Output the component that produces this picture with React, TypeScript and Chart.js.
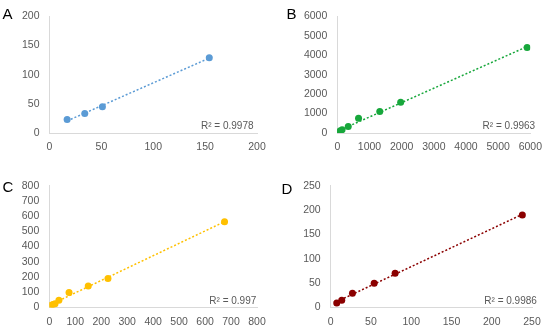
import React, { useEffect, useRef } from "react";
import { Chart, registerables } from "chart.js";

Chart.register(...registerables);

// ---- Data ----
const panelLetters = ["A", "B", "C", "D"];
const r2Labels = ["R² = 0.9978", "R² = 0.9963", "R² = 0.997", "R² = 0.9986"];

const xA = [17, 34, 51, 154];
const yA = [23, 33.5, 45, 129];

const xB = [10, 40, 80, 150, 340, 660, 1320, 1970, 5900];
const yB = [10, 40, 100, 170, 330, 760, 1110, 1580, 4400];

const xC = [8, 14, 22, 37, 76, 150, 226, 675];
const yC = [15, 20, 25, 48, 98, 142, 191, 563];

const xD = [7.5, 13.7, 27, 54, 80, 238];
const yD = [9, 15, 29, 50, 70.5, 190];

const axisMax = [200, 6000, 800, 250];
const axisStep = [50, 1000, 100, 50];

// ---- Styles / layout ----
const colors = ["#5B9BD5", "#17A73B", "#FFC000", "#8B0000"];
const FONT = '"Liberation Sans", Arial, sans-serif';

type PanelLayout = {
  left: number;
  top: number;
  width: number;
  height: number;
  area: { l: number; r: number; t: number; b: number };
  r2Off: number;
  letterLeft: number;
  letterTop: number;
};

const layouts: PanelLayout[] = [
  { left: 0, top: 0, width: 275, height: 165, area: { l: 49.5, r: 257, t: 12, b: 133 }, r2Off: 56, letterLeft: 2.5, letterTop: 6.2 },
  { left: 275, top: 0, width: 275, height: 165, area: { l: 62.3, r: 257, t: 12, b: 133 }, r2Off: 47.7, letterLeft: 11.5, letterTop: 5.5 },
  { left: 0, top: 165, width: 275, height: 166, area: { l: 49.3, r: 257, t: 20.7, b: 142.5 }, r2Off: 47.7, letterLeft: 2.5, letterTop: 13.8 },
  { left: 275, top: 165, width: 275, height: 166, area: { l: 55.7, r: 257, t: 20.7, b: 142.5 }, r2Off: 47.7, letterLeft: 6.5, letterTop: 15.5 },
];

const seriesX = [xA, xB, xC, xD];
const seriesY = [yA, yB, yC, yD];

function fitLine(xs: number[], ys: number[]) {
  const n = xs.length;
  const mx = xs.reduce((a, b) => a + b, 0) / n;
  const my = ys.reduce((a, b) => a + b, 0) / n;
  let sxy = 0;
  let sxx = 0;
  for (let i = 0; i < n; i++) {
    sxy += (xs[i] - mx) * (ys[i] - my);
    sxx += (xs[i] - mx) * (xs[i] - mx);
  }
  const slope = sxy / sxx;
  const intercept = my - slope * mx;
  const x0 = Math.min(...xs);
  const x1 = Math.max(...xs);
  return [
    { x: x0, y: intercept + slope * x0 },
    { x: x1, y: intercept + slope * x1 },
  ];
}

function Panel({ idx }: { idx: number }) {
  const ref = useRef<HTMLCanvasElement | null>(null);
  const L = layouts[idx];

  useEffect(() => {
    if (!ref.current) return;
    const xs = seriesX[idx];
    const ys = seriesY[idx];
    const color = colors[idx];
    const pts = xs.map((x, i) => ({ x, y: ys[i] }));
    const trend = fitLine(xs, ys);

    const r2Plugin = {
      id: "r2label" + idx,
      afterDraw(chart: any) {
        const { ctx, chartArea } = chart;
        ctx.save();
        ctx.font = `10px ${FONT}`;
        ctx.fillStyle = "#595959";
        ctx.textAlign = "left";
        ctx.textBaseline = "alphabetic";
        ctx.fillText(r2Labels[idx], chartArea.right - L.r2Off, chartArea.bottom - 4);
        ctx.restore();
      },
    };

    const tickFont = { family: FONT, size: 10.5 };
    const fmt = (v: any) => String(v);

    const chart = new Chart(ref.current, {
      type: "scatter",
      data: {
        datasets: [
          {
            type: "scatter",
            data: pts,
            backgroundColor: color,
            borderColor: color,
            borderWidth: 0,
            pointRadius: 3.5,
            order: 0,
          } as any,
          {
            type: "line",
            data: trend,
            borderColor: color,
            borderWidth: 1.5,
            borderDash: [2, 2],
            pointRadius: 0,
            fill: false,
            order: 1,
          } as any,
        ],
      },
      options: {
        animation: false,
        responsive: false,
        maintainAspectRatio: false,
        events: [],
        layout: {
          padding: { top: L.area.t, right: L.width - L.area.r, left: 0, bottom: 0 },
        },
        plugins: {
          legend: { display: false },
          tooltip: { enabled: false },
          title: { display: false },
        },
        scales: {
          x: {
            type: "linear",
            min: 0,
            max: axisMax[idx],
            grid: { display: false, drawTicks: false },
            border: { display: true, color: "#D9D9D9", width: 1 },
            ticks: {
              stepSize: axisStep[idx],
              color: "#595959",
              font: tickFont,
              padding: 8,
              maxRotation: 0,
              autoSkip: false,
              callback: fmt,
            },
            afterFit(scale: any) {
              scale.height = L.height - L.area.b;
            },
          },
          y: {
            type: "linear",
            min: 0,
            max: axisMax[idx],
            grid: { display: false, drawTicks: false },
            border: { display: true, color: "#D9D9D9", width: 1 },
            ticks: {
              stepSize: axisStep[idx],
              color: "#595959",
              font: tickFont,
              padding: 10,
              autoSkip: false,
              callback: fmt,
            },
            afterFit(scale: any) {
              scale.width = L.area.l;
            },
          },
        },
      } as any,
      plugins: [r2Plugin],
    });
    return () => chart.destroy();
  }, [idx]);

  return (
    <div
      style={{
        position: "absolute",
        left: L.left,
        top: L.top,
        width: L.width,
        height: L.height,
      }}
    >
      <canvas
        ref={ref}
        width={L.width}
        height={L.height}
        style={{ width: L.width, height: L.height, display: "block" }}
      />
      <div
        style={{
          position: "absolute",
          left: L.letterLeft,
          top: L.letterTop,
          fontFamily: FONT,
          fontSize: 15,
          lineHeight: "15px",
          color: "#000",
        }}
      >
        {panelLetters[idx]}
      </div>
    </div>
  );
}

export default function App() {
  return (
    <div
      style={{
        position: "absolute",
        left: 0,
        top: 0,
        width: 550,
        height: 331,
        background: "#fff",
      }}
    >
      {[0, 1, 2, 3].map((i) => (
        <Panel key={i} idx={i} />
      ))}
    </div>
  );
}
